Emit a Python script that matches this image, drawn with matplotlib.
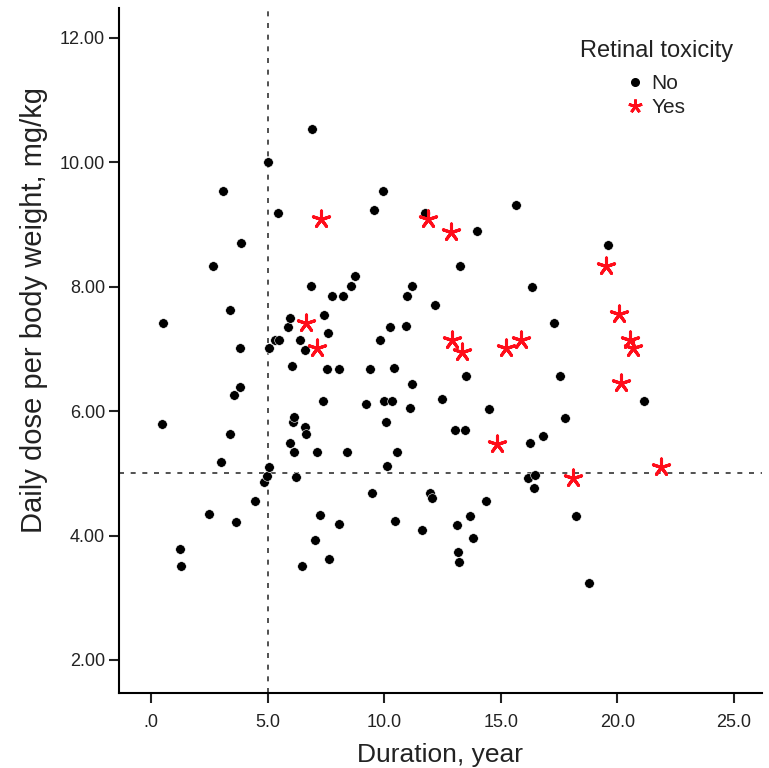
import matplotlib
matplotlib.use("Agg")
import matplotlib.pyplot as plt
from matplotlib.lines import Line2D

plt.rcParams['font.family'] = ['Liberation Sans', 'DejaVu Sans']

no_x = [0.50, 0.46, 1.26, 1.29, 2.50, 2.67, 2.99, 3.10, 3.39, 3.40, 3.58, 3.65, 3.82, 3.82, 3.86,
        4.48, 4.86, 4.99, 5.03, 5.05, 5.06, 5.30, 5.46, 5.50, 5.87, 5.98, 5.98, 6.06, 6.09, 6.15,
        6.15, 6.22, 6.38, 6.47, 6.61, 6.62, 6.65, 6.85, 6.92, 7.05, 7.11, 7.27, 7.37, 7.44, 7.57,
        7.60, 7.64, 7.78, 8.07, 8.07, 8.24, 8.41, 8.58, 8.77, 9.24, 9.41, 9.47, 9.57, 9.83, 9.93,
        10.01, 10.07, 10.13, 10.23, 10.34, 10.42, 10.48, 10.57, 10.93, 10.97, 11.10, 11.20, 11.21,
        11.62, 11.77, 11.97, 12.07, 12.16, 12.48, 13.03, 13.12, 13.15, 13.21, 13.25, 13.48, 13.49,
        13.69, 13.79, 13.99, 14.36, 14.51, 15.65, 16.15, 16.25, 16.32, 16.44, 16.48, 16.82, 17.27,
        17.52, 17.74, 18.23, 18.77, 19.60, 21.12]
no_y = [7.41, 5.80, 3.78, 3.51, 4.35, 8.34, 5.19, 9.53, 5.63, 7.62, 6.26, 4.22, 7.02, 6.38, 8.70,
        4.55, 4.86, 4.96, 10.00, 5.10, 7.02, 7.15, 9.18, 7.15, 7.35, 7.49, 5.48, 6.72, 5.82, 5.90,
        5.34, 4.94, 7.15, 3.51, 6.99, 5.75, 5.63, 8.01, 10.53, 3.93, 5.34, 4.33, 6.16, 7.55, 6.67,
        7.26, 3.63, 7.85, 6.67, 4.18, 7.85, 5.35, 8.01, 8.17, 6.11, 6.67, 4.68, 9.24, 7.15, 9.53,
        6.16, 5.82, 5.12, 7.35, 6.16, 6.69, 4.23, 5.34, 7.36, 7.85, 6.05, 6.44, 8.01,
        4.09, 9.19, 4.69, 4.61, 7.70, 6.19, 5.70, 4.17, 3.74, 3.57, 8.34, 5.70, 6.57,
        4.31, 3.96, 8.89, 4.55, 6.04, 9.31, 4.92, 5.49, 8.00, 4.77, 4.97, 5.60, 7.41,
        6.56, 5.89, 4.31, 3.23, 8.67, 6.16]

yes_x = [6.66, 7.14, 7.30, 11.86, 12.85, 12.92, 13.33, 14.84, 15.24, 15.87, 18.10, 19.52, 20.07,
         20.16, 20.53, 20.66, 21.88]
yes_y = [7.41, 7.01, 9.08, 9.08, 8.88, 7.14, 6.95, 5.47, 7.02, 7.14, 4.93, 8.33, 7.56,
         6.45, 7.15, 7.02, 5.10]

x_ticks = [0, 5, 10, 15, 20, 25]
x_tick_labels = ['.0', '5.0', '10.0', '15.0', '20.0', '25.0']
y_ticks = [2, 4, 6, 8, 10, 12]
y_tick_labels = ['2.00', '4.00', '6.00', '8.00', '10.00', '12.00']
cut_x = 5
cut_y = 5

RED = '#ff0d1a'
TXT = '#222222'

fig = plt.figure(figsize=(7.69, 7.68), dpi=100)
ax = fig.add_axes([0.1547, 0.0977, 0.8362, 0.892])

ax.axvline(cut_x, color='#333333', lw=1.2, ls=(0, (3, 4)), zorder=1)
ax.axhline(cut_y, color='#333333', lw=1.2, ls=(0, (3, 4)), zorder=1)

ax.scatter(no_x, no_y, s=48, color='black', edgecolors='white', linewidths=0.4, zorder=3)
ax.scatter(yes_x, yes_y, s=150, marker=(5, 2, 0), color=RED, linewidths=2.2, zorder=4)

ax.set_xlim(-1.37, 26.2)
ax.set_ylim(1.47, 12.48)
ax.set_xticks(x_ticks)
ax.set_xticklabels(x_tick_labels)
ax.set_yticks(y_ticks)
ax.set_yticklabels(y_tick_labels)

for s in ['top', 'right']:
    ax.spines[s].set_visible(False)
for s in ['left', 'bottom']:
    ax.spines[s].set_linewidth(1.5)
ax.tick_params(axis='both', length=7, width=1.5, labelsize=13, colors=TXT, pad=3)
ax.tick_params(axis='x', pad=8)

ax.set_xlabel('Duration, year', fontsize=19, color=TXT, labelpad=9)
ax.set_ylabel('Daily dose per body weight, mg/kg', fontsize=21, color=TXT)
ax.yaxis.set_label_coords(-0.11, 0.559)

fig.text(657 / 769, 1 - 51 / 768, 'Retinal toxicity', ha='center', va='center',
         fontsize=17, color=TXT)

handles = [
    Line2D([], [], marker='o', color='black', ls='none', markersize=5.5),
    Line2D([], [], marker=(5, 2, 0), color=RED, ls='none', markersize=10, markeredgewidth=2),
]
ax.legend(handles, ['No', 'Yes'], loc='upper left',
          bbox_to_anchor=(625 / 769, 1 - 74 / 768), bbox_transform=fig.transFigure,
          frameon=False, fontsize=15, handletextpad=0.25, labelspacing=0.25,
          handlelength=1.0, borderpad=0, borderaxespad=0, labelcolor=TXT)

fig.savefig('out.png', dpi=100)
